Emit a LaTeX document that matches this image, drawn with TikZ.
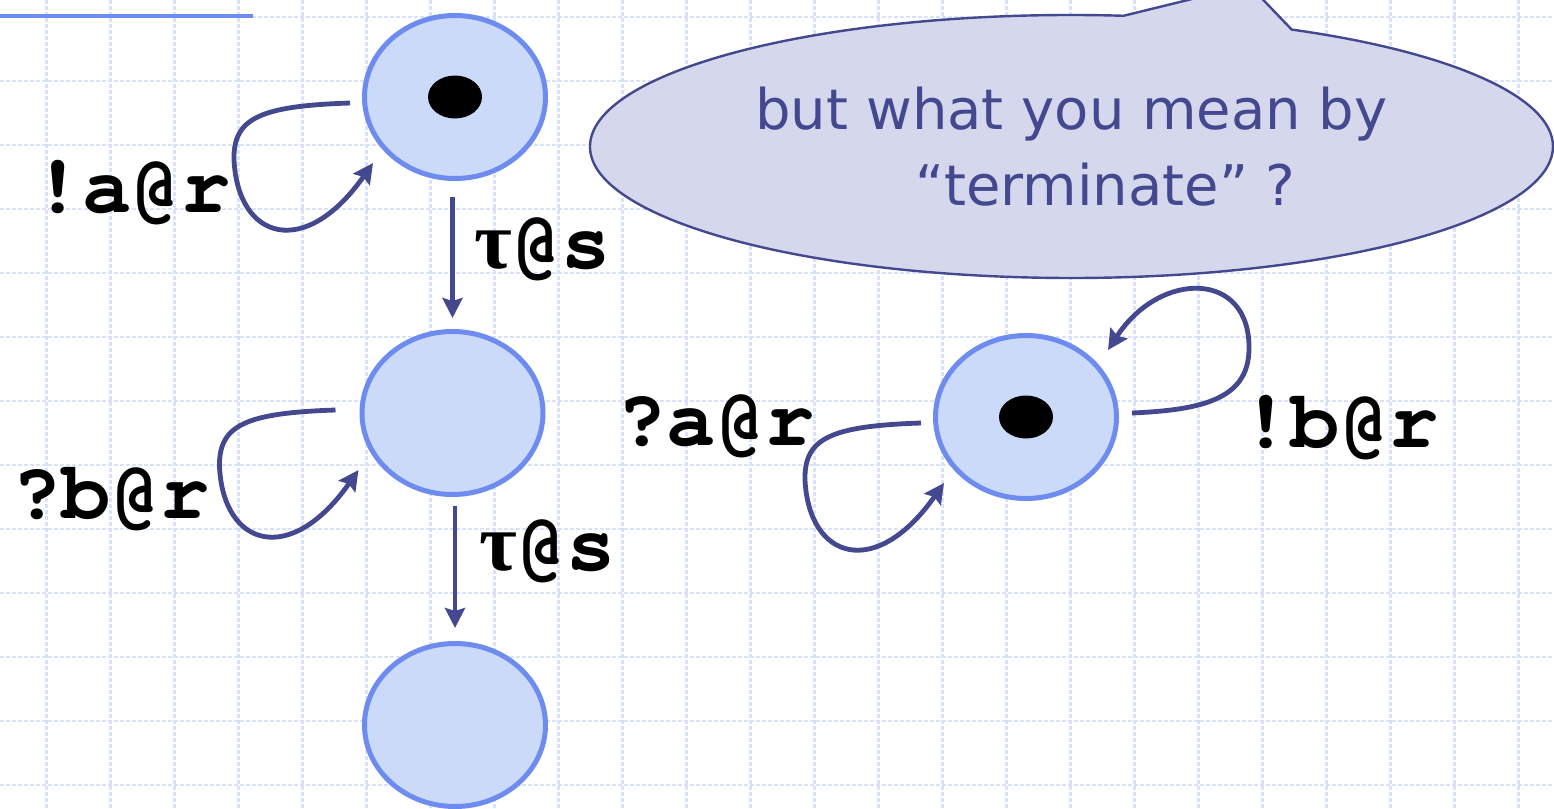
\documentclass[tikz,border=0pt]{standalone}
\usepackage{fontspec}
\newfontfamily\codefont{TeX Gyre Cursor}
\newfontfamily\greekfont{Liberation Serif}
\newfontfamily\notefont{DejaVu Sans}
\usetikzlibrary{arrows.meta, positioning, shapes.geometric, shapes.callouts, calc}

\definecolor{gridblue}{RGB}{218,226,251}
\definecolor{stateline}{RGB}{110,140,240}
\definecolor{statefill}{RGB}{204,218,250}
\definecolor{edgeblue}{RGB}{67,72,143}
\definecolor{notefill}{RGB}{213,216,236}

\begin{document}
\begin{tikzpicture}[
  x=0.5pt, y=-0.5pt,
  >={Stealth[length=10pt, width=10pt, inset=1.5pt]},  % Arrow tip
  % Background grid
  gridline/.style={
    draw=gridblue,
    line width=1.2pt,
    dash pattern=on 2pt off 1pt
  },
  % State styles
  stateblock/.style={
    ellipse,
    draw=stateline,
    fill=statefill,
    line width=2.5pt,
    minimum width=90.5pt,
    minimum height=81.5pt,
    inner sep=0pt
  },
  dotblock/.style={
    ellipse,
    fill=black,
    minimum width=27pt,
    minimum height=21.5pt,
    inner sep=0pt
  },
  labelblock/.style={
    anchor=base,
    inner sep=0pt,
    font=\codefont\bfseries\fontsize{41}{41}\selectfont
  },
  noteblock/.style={
    ellipse callout,
    callout pointer arc=21,
    draw=edgeblue,
    fill=notefill,
    line width=1.2pt,
    text=edgeblue,
    minimum width=481.5pt,
    minimum height=131.5pt,
    inner sep=0pt,
    align=center,
    font=\notefont\fontsize{28}{38}\selectfont
  },
  % Arrows style
  connector/.style={
    ->,
    draw=edgeblue,
    line width=2.4pt
  }
]
\fill[white] (0,0) rectangle (1554,809);
\useasboundingbox (0,0) rectangle (1554,809);

% -----------------------------------------------
% GRID
% -----------------------------------------------
\foreach \gx in {46.5,110.5,...,1554}
  \draw[gridline] (\gx,0) -- (\gx,809);
\foreach \gy in {17,81,...,809}
  \draw[gridline] (0,\gy) -- (1554,\gy);

\draw[draw=stateline, line width=1.6pt] (0,16) -- (253,16);

% -----------------------------------------------
% REMARK
% -----------------------------------------------
\node[noteblock, callout absolute pointer={(1249,-15)}] (remark) at (1071.5,146.5)
  {but what you mean by\\\hspace*{34pt}“terminate” ?};

% -----------------------------------------------
% STATES
% -----------------------------------------------
\node[stateblock] (s1) at (455,97) {};
\node[dotblock] (s1dot) at (s1) {};

\node[stateblock] (s2) at (452.5,413) {};

\node[stateblock] (s3) at (455,725) {};

\node[stateblock] (s4) at (1026,417) {};
\node[dotblock] (s4dot) at (s4) {};

% -----------------------------------------------
% TRANSITIONS
% -----------------------------------------------
\draw[connector, shorten <=8pt, shorten >=5.5pt] (s1.south -| s2.north) -- (s2.north);
\draw[connector, shorten <=4.5pt, shorten >=6.5pt] (s2.south -| s3.north) -- (s3.north);

% Self loops
\draw[connector] ($(s1)+(-105,6)$) .. controls +(-90,3) and +(-1,-42) .. ($(s1)+(-221,63)$)
  .. controls +(4,80) and +(-68,97) .. ($(s1)+(-82,66)$);
\draw[connector] ($(s2)+(-117,-3)$) .. controls +(-90,3) and +(-1,-42) .. ($(s2)+(-233,54)$)
  .. controls +(4,80) and +(-68,97) .. ($(s2)+(-94,57)$);
\draw[connector] ($(s4)+(-105,6)$) .. controls +(-90,3) and +(-1,-42) .. ($(s4)+(-221,63)$)
  .. controls +(4,80) and +(-68,97) .. ($(s4)+(-82,66)$);
\draw[connector] ($(s4)+(106,-4)$) .. controls +(68,-3) and +(-1,50) .. ($(s4)+(223,-67)$)
  .. controls +(2,-80) and +(52,-80) .. ($(s4)+(82,-67)$);

% Labels
\node[labelblock] (sendA) at (132,212) {!a@r};
\node[labelblock] (tauA) at (543,268) {{\greekfont τ}@s};
\node[labelblock] (recvB) at (111,518) {?b@r};
\node[labelblock] (tauB) at (548,570) {{\greekfont τ}@s};
\node[labelblock] (recvA) at (716,445) {?a@r};
\node[labelblock] (sendB) at (1340,447) {!b@r};

\end{tikzpicture}
\end{document}
